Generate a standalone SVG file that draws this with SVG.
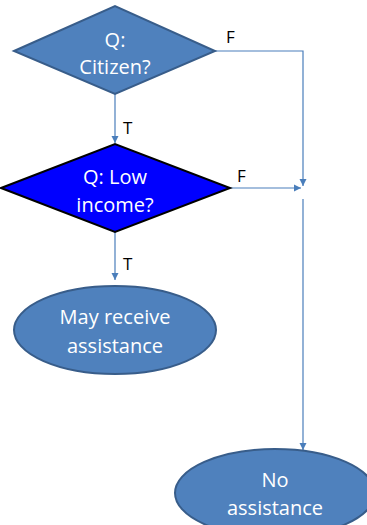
<svg xmlns="http://www.w3.org/2000/svg" width="367" height="525" viewBox="0 0 367 525">
<style>
.c{fill:none;stroke:#4A7EBB;stroke-width:1.2}
.t{font-family:"Open Sans","Noto Sans",sans-serif;font-size:20px;fill:#fff;text-anchor:middle}
.l{font-family:"Open Sans","Noto Sans",sans-serif;font-size:17px;fill:#000}
.n{fill:#4F81BD;stroke:#385D8A;stroke-width:2}
</style>
<defs>
<marker id="a" markerWidth="8" markerHeight="8" refX="7" refY="4" orient="auto" markerUnits="userSpaceOnUse">
<path d="M0,0.5 L7,4 L0,7.5 Z" fill="#4A7EBB"/>
</marker>
</defs>
<g id="connectors">
<polyline class="c" points="215,51 303,51 303,186" marker-end="url(#a)"/>
<line class="c" x1="115" y1="94" x2="115" y2="143" marker-end="url(#a)"/>
<line class="c" x1="230" y1="188" x2="301" y2="188" marker-end="url(#a)"/>
<line class="c" x1="303" y1="199" x2="303" y2="450" marker-end="url(#a)"/>
<line class="c" x1="115" y1="232" x2="115" y2="280" marker-end="url(#a)"/>
<text class="l" x="226" y="43">F</text>
<text class="l" x="123" y="134">T</text>
<text class="l" x="237" y="182">F</text>
<text class="l" x="123" y="270">T</text>
</g>
<g id="q1">
<polygon class="n" points="14,51 115,6 215,51 115,94"/>
<text class="t" x="115" y="47">Q:</text>
<text class="t" x="115" y="74">Citizen?</text>
</g>
<g id="q2">
<polygon points="1,188 115,144 230,188 115,232" fill="#0000FF" stroke="#000" stroke-width="2"/>
<text class="t" x="115" y="184">Q: Low</text>
<text class="t" x="115" y="212">income?</text>
</g>
<g id="yes">
<ellipse class="n" cx="115" cy="330" rx="101" ry="44"/>
<text class="t" x="115" y="324">May receive</text>
<text class="t" x="115" y="353">assistance</text>
</g>
<g id="no">
<ellipse class="n" cx="275" cy="493" rx="100" ry="44"/>
<text class="t" x="275" y="487">No</text>
<text class="t" x="275" y="515">assistance</text>
</g>
</svg>
